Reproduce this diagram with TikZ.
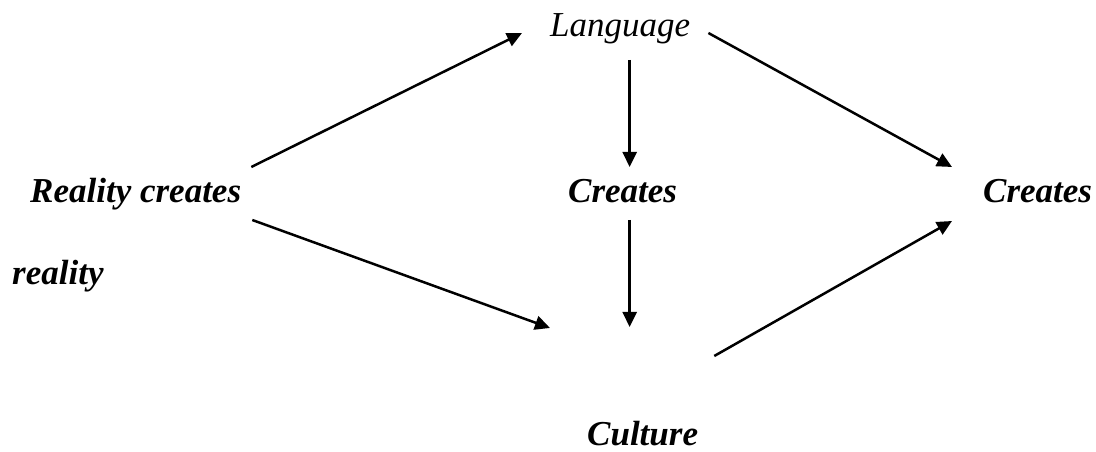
\documentclass[tikz,border=0pt]{standalone}
\usepackage{fontspec}
\setmainfont{Liberation Serif}
\usetikzlibrary{arrows.meta,calc}
\begin{document}
\begin{tikzpicture}[x=1pt,y=1pt,
  lbl/.style={inner sep=0pt,anchor=base west,font=\fontsize{35}{40}\selectfont\bfseries\itshape},
  lbllight/.style={lbl,font=\fontsize{35}{40}\selectfont\itshape},
  arr/.style={line width=2.5pt,-{Triangle[length=15pt,width=14pt]}}]
\useasboundingbox (0,0) rectangle (1096,452);
\node[lbllight] (lang) at (550,415) {Language};
\node[lbl] (rc) at (30,249) {Reality creates};
\node[lbl] (cm) at (568,249) {Creates};
\node[lbl] (cr) at (983,249) {Creates};
\node[lbl] (real) at (12,167) {reality};
\node[lbl] (cult) at (587,6) {Culture};
\draw[arr] ([shift={(10,36)}]rc.base east) -- ([shift={(-28,4)}]lang.base west);
\draw[arr] ([shift={(11,-17)}]rc.base east) -- ([shift={(-37,118)}]cult.base west);
\draw[arr] ($(cm.base |- lang.base)+(7,-23)$) -- ($(cm.base)+(7,36)$);
\draw[arr] ($(cm.base)+(7,-17)$) -- ($(cm.base |- cult.base)+(7,119)$);
\draw[arr] ([shift={(18,4)}]lang.base east) -- ([shift={(-31,36)}]cr.base west);
\draw[arr] ([shift={(16,90)}]cult.base east) -- ([shift={(-31,-18)}]cr.base west);
\end{tikzpicture}
\end{document}
